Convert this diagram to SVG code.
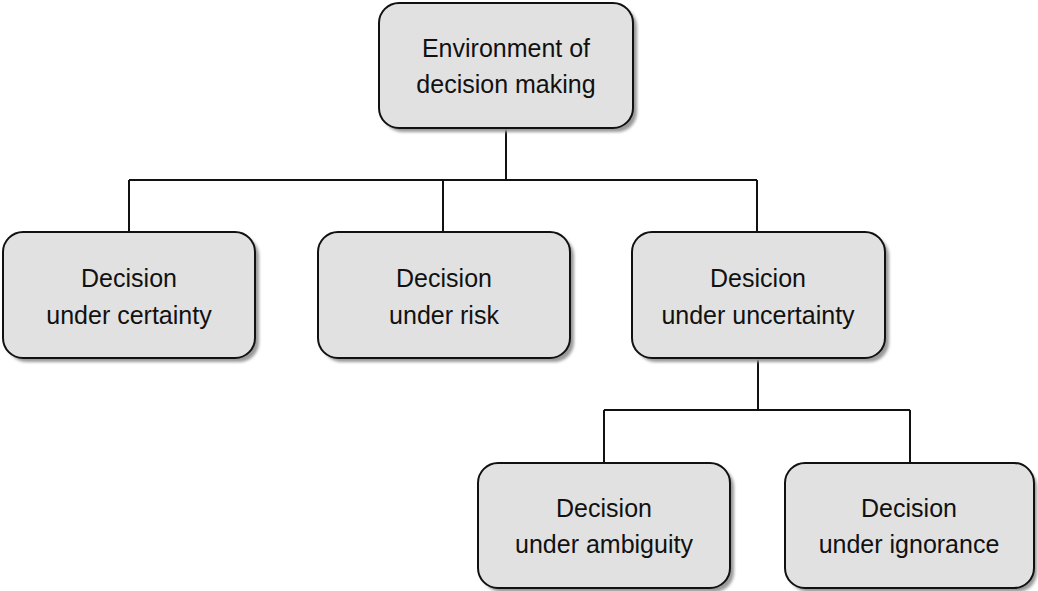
<svg xmlns="http://www.w3.org/2000/svg" width="1038" height="591" viewBox="0 0 1038 591">
  <style>
    .box { fill: #e1e1e1; stroke: #111; stroke-width: 2; }
    .shadow { fill: #9a9a9a; filter: url(#soft); }
    .label { font-family: "Liberation Sans", Arial, sans-serif; font-size: 25px; fill: #111; text-anchor: middle; }
    .wire { fill: none; stroke: #111; stroke-width: 2; }
  </style>
  <defs>
    <filter id="soft" x="-10%" y="-10%" width="120%" height="120%">
      <feGaussianBlur stdDeviation="1.5"/>
    </filter>
  </defs>
  <rect width="1038" height="591" fill="#ffffff"/>

  <g id="connectors">
    <path class="wire" d="M506 128 V180 M129 180 H757 M129 180 V232 M443 180 V232 M757 180 V232"/>
    <path class="wire" d="M758 358 V410 M604 410 H910 M604 410 V463 M910 410 V463"/>
  </g>

  <g id="root">
    <rect class="shadow" x="383" y="7" width="254" height="125" rx="20"/>
    <rect class="box" x="379" y="3" width="254" height="125" rx="20"/>
    <text class="label" x="506" y="57">Environment of</text>
    <text class="label" x="506" y="93">decision making</text>
  </g>

  <g id="certainty">
    <rect class="shadow" x="7" y="236" width="252" height="126" rx="20"/>
    <rect class="box" x="3" y="232" width="252" height="126" rx="20"/>
    <text class="label" x="129" y="287">Decision</text>
    <text class="label" x="129" y="324">under certainty</text>
  </g>

  <g id="risk">
    <rect class="shadow" x="322" y="236" width="252" height="126" rx="20"/>
    <rect class="box" x="318" y="232" width="252" height="126" rx="20"/>
    <text class="label" x="444" y="287">Decision</text>
    <text class="label" x="444" y="324">under risk</text>
  </g>

  <g id="uncertainty">
    <rect class="shadow" x="636" y="236" width="253" height="126" rx="20"/>
    <rect class="box" x="632" y="232" width="253" height="126" rx="20"/>
    <text class="label" x="758" y="287">Desicion</text>
    <text class="label" x="758" y="324">under uncertainty</text>
  </g>

  <g id="ambiguity">
    <rect class="shadow" x="482" y="467" width="252" height="125" rx="20"/>
    <rect class="box" x="478" y="463" width="252" height="125" rx="20"/>
    <text class="label" x="604" y="517">Decision</text>
    <text class="label" x="604" y="553">under ambiguity</text>
  </g>

  <g id="ignorance">
    <rect class="shadow" x="789" y="467" width="248" height="125" rx="20"/>
    <rect class="box" x="785" y="463" width="249" height="125" rx="20"/>
    <text class="label" x="909" y="517">Decision</text>
    <text class="label" x="909" y="553">under ignorance</text>
  </g>
</svg>
